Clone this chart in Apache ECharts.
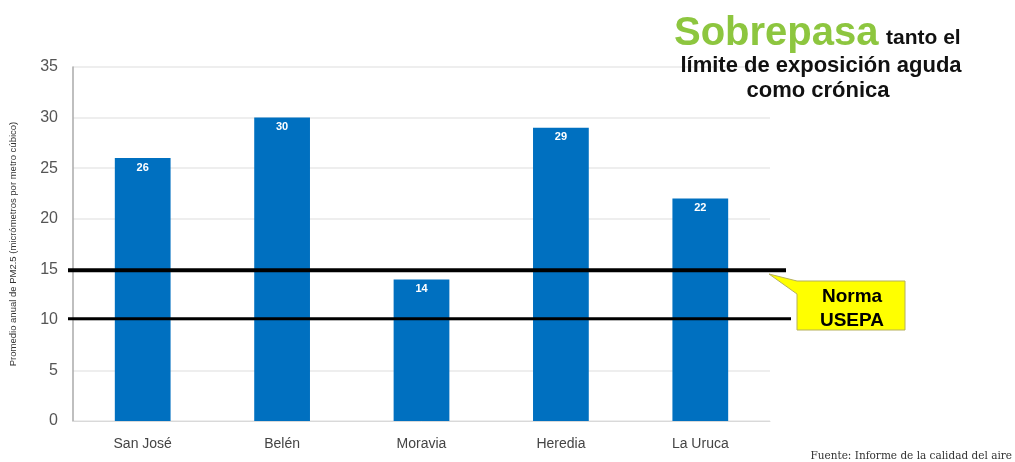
<!DOCTYPE html>
<html>
<head>
<meta charset="utf-8">
<script src="https://cdn.jsdelivr.net/npm/echarts@6/dist/echarts.min.js"></script>
<style>
  html, body { margin: 0; padding: 0; background: #fff; }
  #chart { width: 1015px; height: 462px; }
</style>
</head>
<body>
<div id="chart"></div>
<script>
const categories = ['San José', 'Belén', 'Moravia', 'Heredia', 'La Uruca']
const values = [26, 30, 14, 29, 22]
const limits = [15, 10]
const yTicks = [0, 35, 5]

const myChart = echarts.init(document.getElementById('chart'))

myChart.setOption({
    animation: false,
    grid: { left: 68, right: 245, top: 67, bottom: 41 },
    xAxis: {
        type: 'category',
        data: categories,
        axisTick: { show: false },
        axisLine: { lineStyle: { color: '#d9d9d9', width: 1 } },
        axisLabel: { color: '#444', fontSize: 14, fontFamily: 'Liberation Sans', margin: 16 }
    },
    yAxis: {
        type: 'value',
        min: yTicks[0],
        max: yTicks[1],
        interval: yTicks[2],
        name: 'Promedio anual de PM2.5 (micrómetros por metro cúbico)',
        nameLocation: 'middle',
        nameGap: 55,
        nameTextStyle: { fontSize: 9.5, color: '#333', fontFamily: 'Liberation Sans' },
        axisLine: { show: true, lineStyle: { color: '#aaa', width: 1.5 } },
        axisTick: { show: false },
        axisLabel: { color: '#555', fontSize: 16, fontFamily: 'Liberation Sans', margin: 15 },
        splitLine: { lineStyle: { color: '#e8e8e8', width: 1.5 } }
    },
    series: [{
        type: 'bar',
        data: values,
        barWidth: '40%',
        itemStyle: { color: '#0070c0' },
        label: {
            show: true,
            position: 'insideTop',
            distance: 4,
            color: '#fff',
            fontWeight: 'bold',
            fontSize: 11,
            fontFamily: 'Liberation Sans'
        }
    }]
})

// Reference lines drawn past the plot edge, positioned with the y axis scale
const y15 = myChart.convertToPixel({ yAxisIndex: 0 }, limits[0])
const y10 = myChart.convertToPixel({ yAxisIndex: 0 }, limits[1])
const x0 = 68

myChart.setOption({
    graphic: [
        { type: 'line', shape: { x1: x0, y1: y15 + 1, x2: 786, y2: y15 + 1 }, style: { stroke: '#000', lineWidth: 4 }, z: 10 },
        { type: 'line', shape: { x1: x0, y1: y10 - 1, x2: 791, y2: y10 - 1 }, style: { stroke: '#000', lineWidth: 3 }, z: 10 },
        {
            type: 'polygon',
            shape: { points: [[804, 281], [905, 281], [905, 330], [797, 330], [797, 294], [769, 274], [797, 281]] },
            style: { fill: '#ffff00', stroke: '#b5b05a', lineWidth: 1 },
            z: 11
        },
        {
            type: 'text', z: 12,
            style: {
                x: 852, y: 309, text: 'Norma\nUSEPA', fill: '#000', font: 'bold 19px Liberation Sans',
                align: 'center', verticalAlign: 'middle', lineHeight: 24
            }
        },
        {
            type: 'text', z: 12,
            style: { x: 674, y: 54, text: 'Sobrepasa', fill: '#8dc63f', font: 'bold 40px Liberation Sans', verticalAlign: 'bottom' }
        },
        {
            type: 'text', z: 12,
            style: { x: 886, y: 49, text: 'tanto el', fill: '#111', font: 'bold 21px Liberation Sans', verticalAlign: 'bottom' }
        },
        {
            type: 'text', z: 12,
            style: { x: 821, y: 77, text: 'límite de exposición aguda', fill: '#111', font: 'bold 22px Liberation Sans', align: 'center', verticalAlign: 'bottom' }
        },
        {
            type: 'text', z: 12,
            style: { x: 818, y: 102, text: 'como crónica', fill: '#111', font: 'bold 22px Liberation Sans', align: 'center', verticalAlign: 'bottom' }
        },
        {
            type: 'text', z: 12,
            style: { x: 1012, y: 462, text: 'Fuente: Informe de la calidad del aire', fill: '#333', font: '10.5px DejaVu Serif', align: 'right', verticalAlign: 'bottom' }
        }
    ]
})
</script>
</body>
</html>
